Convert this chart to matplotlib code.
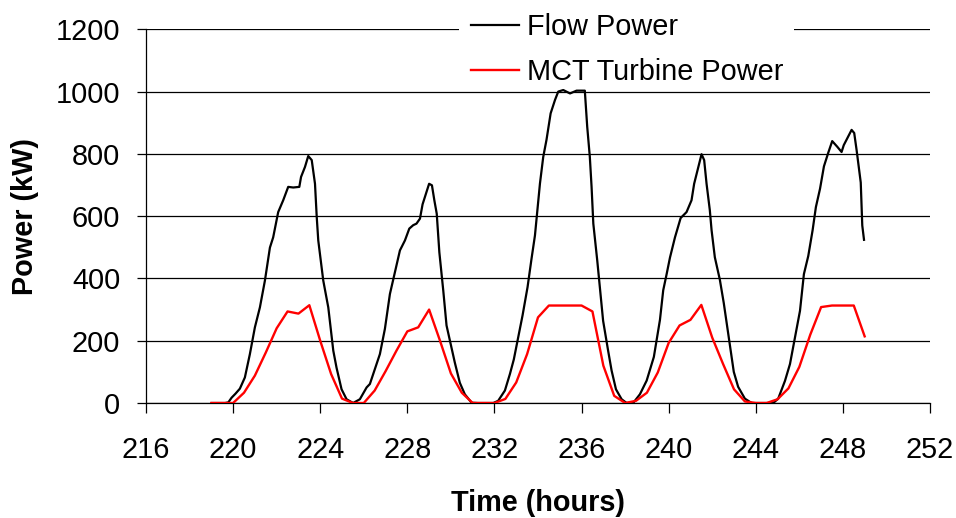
import matplotlib
matplotlib.use("Agg")
import matplotlib.pyplot as plt
from matplotlib.patches import Rectangle

plt.rcParams['font.family'] = ['Liberation Sans', 'DejaVu Sans']

# ---- data ----
flow_time = [219.02, 219.39, 219.63, 219.78, 219.93, 220.11, 220.31, 220.54, 220.77, 221.00,
             221.23, 221.46, 221.69, 221.84, 222.07, 222.30, 222.53, 222.76, 223.04, 223.12,
             223.30, 223.45, 223.61, 223.76, 223.84, 223.91, 224.14, 224.37, 224.60, 224.75,
             224.98, 225.21, 225.51, 225.82, 226.13, 226.28, 226.51, 226.74, 226.97, 227.20,
             227.43, 227.66, 227.89, 228.09, 228.27, 228.42, 228.58, 228.70, 228.88, 229.00,
             229.13, 229.24, 229.35, 229.47, 229.65, 229.80, 229.99, 230.18, 230.41, 230.64,
             230.95, 231.24, 231.59, 231.95, 232.17, 232.48, 232.71, 232.89, 233.09, 233.29,
             233.52, 233.70, 233.86, 233.97, 234.09, 234.24, 234.39, 234.58, 234.78, 234.93,
             235.16, 235.47, 235.77, 236.15, 236.26, 236.38, 236.46, 236.54, 236.72, 236.84,
             236.99, 237.22, 237.38, 237.58, 237.84, 238.07, 238.38, 238.68, 238.99, 239.32,
             239.60, 239.75, 239.91, 240.06, 240.29, 240.55, 240.82, 241.05, 241.17, 241.36,
             241.51, 241.63, 241.74, 241.89, 241.97, 242.12, 242.35, 242.53, 242.70, 242.85,
             242.99, 243.19, 243.50, 243.81, 244.29, 244.80, 245.03, 245.34, 245.57, 245.80,
             246.03, 246.21, 246.41, 246.61, 246.76, 246.95, 247.13, 247.33, 247.51, 247.74,
             247.94, 248.04, 248.40, 248.52, 248.63, 248.82, 248.89, 248.97]
flow_power = [0, 0, 0, 2, 17, 30, 46, 82, 157, 243,
              307, 393, 499, 532, 613, 651, 694, 692, 694, 726,
              758, 793, 780, 704, 597, 522, 393, 307, 168, 113,
              44, 12, 0, 12, 50, 61, 109, 157, 238, 350,
              420, 490, 522, 560, 571, 576, 592, 638, 677, 704,
              699, 651, 608, 484, 361, 249, 189, 130, 65, 28,
              1, 0, 0, 0, 7, 40, 93, 140, 210, 281,
              372, 462, 538, 619, 705, 790, 845, 930, 973, 1000,
              1005, 994, 1003, 1003, 887, 790, 694, 576, 458, 371,
              264, 168, 104, 44, 12, 0, 1, 28, 72, 148,
              267, 362, 415, 467, 532, 594, 613, 651, 704, 757,
              799, 780, 704, 619, 555, 468, 396, 321, 240, 170,
              100, 52, 14, 0, 0, 0, 14, 71, 125, 210,
              296, 414, 472, 555, 629, 688, 760, 804, 841, 823,
              806, 828, 877, 867, 812, 708, 570, 524]

mct_time = [219.0, 219.5, 220.0, 220.5, 221.0, 221.5, 222.0, 222.5, 223.0, 223.5,
            224.0, 224.5, 225.0, 225.5, 226.0, 226.5, 227.0, 227.5, 228.0, 228.5,
            229.0, 229.5, 230.0, 230.5, 231.0, 231.5, 232.0, 232.5, 233.0, 233.5,
            234.0, 234.5, 235.0, 235.5, 236.0, 236.5, 237.0, 237.5, 238.0, 238.5,
            239.0, 239.5, 240.0, 240.5, 241.0, 241.5, 242.0, 242.5, 243.0, 243.5,
            244.0, 244.5, 245.0, 245.5, 246.0, 246.5, 247.0, 247.5, 248.0, 248.5,
            249.0]
mct_power = [0, 0, 0, 33, 88, 162, 240, 294, 287, 314,
             200, 93, 14, 0, 0, 40, 102, 168, 230, 243,
             300, 200, 95, 33, 0, 0, 0, 13, 66, 157,
             275, 313, 313, 313, 313, 294, 120, 23, 0, 7,
             33, 98, 193, 249, 267, 315, 210, 125, 44, 5,
             0, 0, 12, 47, 116, 219, 308, 313, 313, 313,
             214]

x_ticks = [216, 220, 224, 228, 232, 236, 240, 244, 248, 252]
y_ticks = [0, 200, 400, 600, 800, 1000, 1200]

# ---- figure ----
W, H = 956, 518
FS = 20.8
fig = plt.figure(figsize=(W / 100, H / 100), dpi=100)
ax = fig.add_axes([146 / W, 1 - 403 / H, (930 - 146) / W, (403 - 29.3) / H])

l1, = ax.plot(flow_time, flow_power, color='black', lw=1.6, label='Flow Power', zorder=3)
l2, = ax.plot(mct_time, mct_power, color='#ff0000', lw=1.7, label='MCT Turbine Power', zorder=3)

ax.set_xlim(216, 252)
ax.set_ylim(0, 1200)
ax.set_xticks(x_ticks)
ax.set_yticks(y_ticks)
ax.set_xticklabels([str(v) for v in x_ticks])
ax.set_yticklabels([str(v) for v in y_ticks])

ax.yaxis.grid(True, color='black', lw=0.9)
ax.set_axisbelow(True)
for s in ['top', 'right']:
    ax.spines[s].set_visible(False)
for s in ['left', 'bottom']:
    ax.spines[s].set_linewidth(0.9)
    ax.spines[s].set_color('black')

ax.tick_params(axis='x', direction='out', length=7.5, width=0.9, pad=16, labelsize=FS)
ax.tick_params(axis='y', direction='out', length=6.5, width=0.9, pad=12, labelsize=FS)

ax.set_xlabel('Time (hours)', fontsize=FS, fontweight='bold', labelpad=18)
ax.set_ylabel('Power (kW)', fontsize=FS, fontweight='bold', labelpad=12)

# white backing of the legend area (hides the top gridline behind the legend)
fig.patches.append(Rectangle((459 / W, 1 - 60 / H), (794 - 459) / W, 60 / H,
                             transform=fig.transFigure, facecolor='white',
                             edgecolor='none', zorder=1))

leg = fig.legend(handles=[l1, l2], loc='upper left', bbox_to_anchor=(459 / W, 1.0 - 1.0 / H),
                 bbox_transform=fig.transFigure, fontsize=FS, frameon=False,
                 borderaxespad=0, borderpad=0.42, handlelength=1.65,
                 handletextpad=0.3, labelspacing=0.6)
leg.set_zorder(5)

fig.savefig('out.png', dpi=100, facecolor='white')
